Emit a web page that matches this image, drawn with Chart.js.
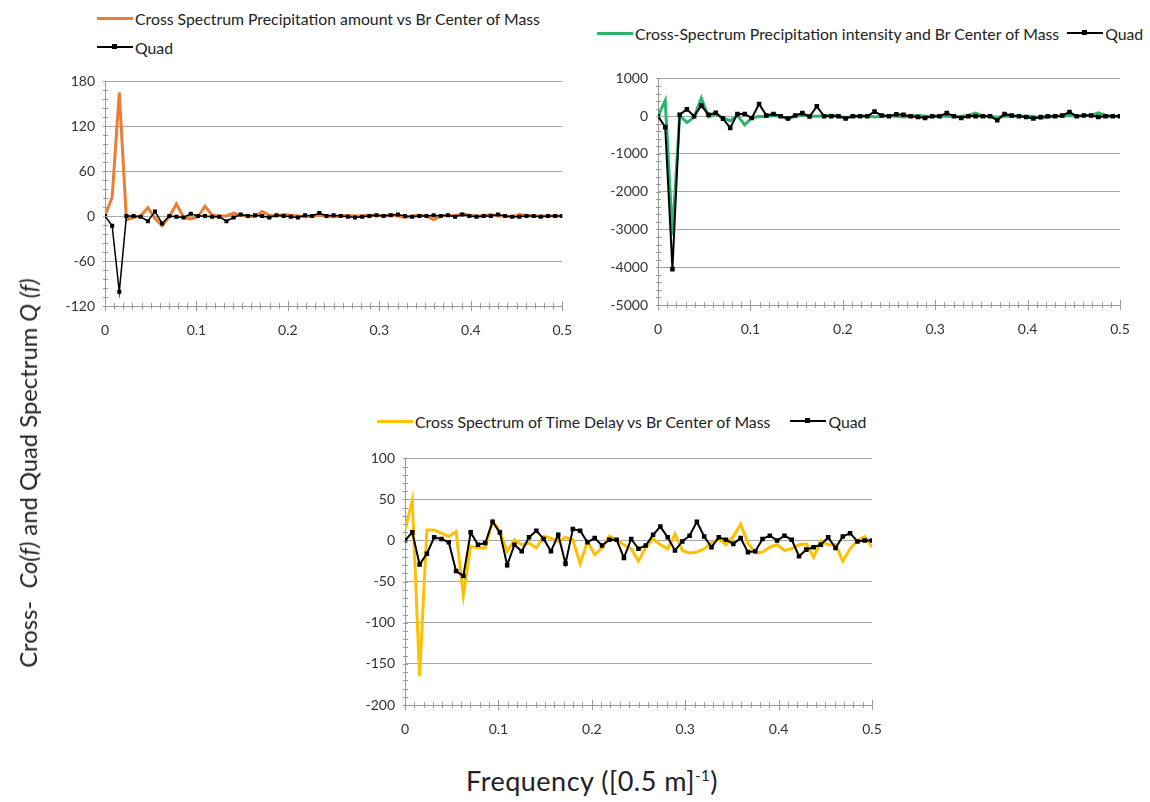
<!DOCTYPE html>
<html>
<head>
<meta charset="utf-8">
<script src="https://cdn.jsdelivr.net/npm/chart.js@4.4.1/dist/chart.umd.min.js"></script>
<style>
body{margin:0;background:#fff;width:1150px;height:802px;position:relative;overflow:hidden;font-family:Lato,sans-serif;color:#222}
canvas{position:absolute}
.leg{position:absolute;font-size:15.8px;white-space:nowrap;display:flex;align-items:center;height:18px}
.leg .ln{display:inline-block;width:36px;height:3px;margin-right:2px;position:relative}
.leg .ln.q{height:1.5px;background:#000;margin-left:8px}
.leg .ln.q:after{content:'';position:absolute;left:15px;top:-2px;width:5px;height:5px;background:#000}
#ytitle{position:absolute;left:28px;top:473px;transform:translate(-50%,-50%) rotate(-90deg);font-size:23.8px;white-space:nowrap}
#xtitle{position:absolute;left:592px;top:780px;transform:translate(-50%,-50%);font-size:27px;letter-spacing:0.5px;white-space:nowrap}
</style>
</head>
<body>
<canvas id="c1" width="540" height="285" style="left:40px;top:60px"></canvas>
<canvas id="c2" width="550" height="285" style="left:590px;top:60px"></canvas>
<canvas id="c3" width="555" height="305" style="left:335px;top:440px"></canvas>

<div class="leg" style="left:97px;top:9px"><span class="ln" style="background:#ED7D31"></span>Cross Spectrum Precipitation amount vs Br Center of Mass</div>
<div class="leg" style="left:89px;top:38px"><span class="ln q"></span>Quad</div>
<div class="leg" style="left:597px;top:24px"><span class="ln" style="background:#2DB36B"></span>Cross-Spectrum Precipitation intensity and Br Center of Mass<span class="ln q"></span>Quad</div>
<div class="leg" style="left:377px;top:412px"><span class="ln" style="background:#FFC000"></span>Cross Spectrum of Time Delay vs Br Center of Mass<span style="width:12px"></span><span class="ln q"></span>Quad</div>

<div id="ytitle">Cross-&nbsp; <i>Co(f)</i> and Quad Spectrum <i>Q (f)</i></div>
<div id="xtitle">Frequency ([0.5 m]<sup style="font-size:15px">-1</sup>)</div>

<script>
// frequencies k/128, k = 0..64
const freq = Array.from({length: 65}, (_, k) => k / 128);

// precipitation amount vs Br center of mass
const coAmount = [
  0, 25, 165, -5, -2, 0, 11, -3, -13, -1,
  16, -2, -4, -1, 13, 1, 0, 0, 4, 1,
  0, -1, 6, 1, 0, 2, 1, 0, -1, 0,
  1, 0, -1, 0, 1, 0, 0, 1, 1, 0,
  2, 0, -2, 0, 1, 0, -5, 0, 1, 0,
  3, 1, 0, 0, 2, 0, 0, -1, 2, 1,
  0, 0, 0, 0, 0
];
const quadAmount = [
  0, -13, -101, 0, 0, -1, -7, 6, -10, 0,
  -1, -2, 3, 0, 0, -1, -1, -7, -2, 2,
  0, 1, 0, -2, 1, 0, -1, -2, 1, 0,
  4, 0, 1, 0, -1, -2, -1, 0, 1, 0,
  1, 2, 0, -1, 0, 0, 1, 0, 1, -1,
  2, 0, -1, 0, 0, 2, 0, -1, -1, 0,
  0, -1, 0, 0, 0
];

// precipitation intensity vs Br center of mass
const coIntensity = [
  0, 410, -3150, 20, -170, -30, 480, -20, 60, -50,
  -120, 20, -230, -40, -10, -10, 20, 0, -80, 0,
  30, 0, 0, 10, 30, 0, -40, 0, 0, 10,
  -20, 0, 10, 0, -20, 0, 20, 0, 0, 0,
  0, -10, 0, 20, 80, 0, 0, -30, 0, 0,
  0, -10, 0, -60, -20, 0, 0, 20, 0, 20,
  20, 90, 20, 0, 0
];
const quadIntensity = [
  0, -290, -4050, 40, 180, 0, 280, 40, 90, -65,
  -310, 60, 60, -50, 320, 20, 60, 0, -60, 20,
  80, -10, 260, 0, 0, 0, -60, 0, 0, 0,
  120, 20, 0, 50, 40, 0, -20, -50, 0, 0,
  80, 0, -50, 0, 0, 0, 0, -110, 60, 20,
  0, -20, -60, -20, 0, 0, 20, 110, 0, 20,
  20, -20, 0, 0, 0
];

// time delay vs Br center of mass
const coDelay = [
  13, 49, -165, 13, 13, 9, 5, 11, -67, -7,
  -9, -9, 24, 11, -13, 1, -5, -3, -9, 5,
  3, -1, 4, 1, -28, -1, -17, -9, 5, 1,
  -5, -10, -25, -8, 2, -5, -10, 8, -12, -15,
  -14, -10, -3, 2, -5, 5, 20, -3, -15, -14,
  -8, -5, -12, -10, -5, -4, -20, 0, -5, -5,
  -25, -10, 0, 5, -8
];
const quadDelay = [
  0, 10, -29, -16, 4, 2, -2, -37, -43, 10,
  -5, -3, 23, 10, -30, -5, -13, 4, 12, 2,
  -13, 7, -28, 14, 12, -2, 3, -6, 1, 1,
  -21, 2, -10, -6, 7, 17, 4, -12, -1, 6,
  23, 5, -8, 4, 1, -4, 3, -14, -13, 2,
  6, 0, 6, 1, -19, -11, -8, -5, 4, -9,
  5, 9, -1, 0, 0
];

// small tick marks along both axes
const minorTicks = {
  id: 'minorTicks',
  afterDraw(chart, args, opts) {
    const {ctx, scales: {x, y}} = chart;
    ctx.save();
    ctx.strokeStyle = '#9a9a9a';
    ctx.lineWidth = 1;
    ctx.beginPath();
    for (let k = 0; k <= 50; k++) {
      const px = Math.round(x.getPixelForValue(k / 100)) + 0.5;
      const len = k % 10 === 0 ? 5 : 3;
      ctx.moveTo(px, y.bottom - len);
      ctx.lineTo(px, y.bottom + len);
    }
    const step = opts.yMinor;
    for (let v = y.min; v <= y.max + 1e-9; v += step) {
      const py = Math.round(y.getPixelForValue(v)) + 0.5;
      ctx.moveTo(x.left - 2, py);
      ctx.lineTo(x.left + 3, py);
    }
    ctx.stroke();
    ctx.restore();
  }
};

function plotSpectrum(id, co, quad, coColor, yMin, yMax, yStep, yWidth, pad, xHeight, quadWidth){
  let ctx = document.getElementById(id).getContext('2d');
  return new Chart(ctx, {
    type: 'line',
    data: {
      datasets: [{
        data: quad.map((v, i) => ({x: freq[i], y: v})),
        borderColor: '#000',
        backgroundColor: '#000',
        borderWidth: quadWidth,
        pointRadius: 1.8,
        pointStyle: 'rect',
        order: 0
      }, {
        data: co.map((v, i) => ({x: freq[i], y: v})),
        borderColor: coColor,
        borderWidth: 3,
        pointRadius: 0,
        order: 1
      }]
    },
    options: {
      responsive: false,
      animation: false,
      layout: {padding: pad},
      plugins: {
        legend: {display: false},
        tooltip: {enabled: false},
        minorTicks: {yMinor: yStep / 5}
      },
      scales: {
        x: {
          type: 'linear',
          min: 0, max: 0.5,
          grid: {display: false},
          border: {display: true, color: '#9a9a9a'},
          ticks: {
            stepSize: 0.1,
            padding: 8,
            maxRotation: 0,
            color: '#333',
            font: {family: 'Lato', size: 14},
            callback: v => String(+v.toFixed(1))
          },
          afterFit: s => { s.height = xHeight; }
        },
        y: {
          min: yMin, max: yMax,
          grid: {color: '#a6a6a6', drawTicks: false},
          border: {display: true, color: '#9a9a9a'},
          ticks: {
            stepSize: yStep,
            padding: 10,
            color: '#333',
            font: {family: 'Lato', size: 14},
            callback: v => String(v)
          },
          afterFit: s => { s.width = yWidth; }
        }
      }
    },
    plugins: [minorTicks]
  });
}

plotSpectrum('c1', coAmount, quadAmount, '#ED7D31', -120, 180, 60, 65, {top: 21, right: 15, bottom: 0, left: 0}, 39, 1.5);
plotSpectrum('c2', coIntensity, quadIntensity, '#2DB36B', -5000, 1000, 1000, 68, {top: 14, right: 20, bottom: 0, left: 0}, 40, 2);
plotSpectrum('c3', coDelay, quadDelay, '#FFC000', -200, 100, 50, 70, {top: 13, right: 18, bottom: 0, left: 0}, 40, 2);
</script>
</body>
</html>
